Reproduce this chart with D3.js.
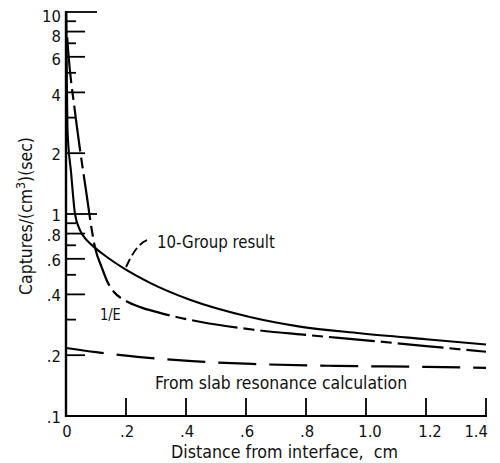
<!DOCTYPE html>
<html><head><meta charset="utf-8">
<script src="https://cdn.jsdelivr.net/npm/d3@7/dist/d3.min.js"></script>
<style>
html,body{margin:0;padding:0;background:#fff;}
svg text{font-family:"DejaVu Sans Condensed","DejaVu Sans",sans-serif;font-stretch:condensed;fill:#111;}
</style></head>
<body><svg id="c" width="500" height="463"></svg>
<script>
// ---- data ----
const tenGroupX = [0.001,0.003,0.005,0.017,0.03,0.047,0.07,0.097,0.125,0.197,0.28,0.413,0.613,0.78,0.98,1.2,1.4];
const tenGroupY = [10,4.2,2.6,1.6,1.0,0.83,0.74,0.68,0.630,0.533,0.456,0.376,0.309,0.277,0.257,0.240,0.226];
const invEX = [0.004,0.007,0.03,0.047,0.07,0.085,0.097,0.12,0.14,0.16,0.2,0.25,0.31,0.45,0.62,0.8,1.0,1.2,1.4];
const invEY = [7.5,6.5,3.2,2.07,1.21,0.85,0.68,0.54,0.455,0.411,0.371,0.345,0.325,0.292,0.268,0.252,0.237,0.222,0.208];
const slabX = [0,0.1,0.2,0.42,0.62,0.9,1.2,1.4];
const slabY = [0.217,0.207,0.199,0.187,0.181,0.177,0.175,0.173];
const xTicks = [0.2,0.4,0.6,0.8,1.0,1.2,1.4];
const xTickLabels = ["0",".2",".4",".6",".8","1.0","1.2","1.4"];
const xLabelVals = [0,0.2,0.4,0.6,0.8,1.0,1.2,1.4];
const yTicks = [0.1,0.2,0.3,0.4,0.5,0.6,0.7,0.8,0.9,1,2,3,4,5,6,7,8,9,10];
const yLabelVals = [0.1,0.2,0.4,0.6,0.8,1,2,4,6,8,10];
const yLabels = [".1",".2",".4",".6",".8","1","2","4","6","8","10"];

// ---- scales ----
const svg = d3.select("#c");
const x = d3.scaleLinear().domain([0,1.4]).range([66,486]);
const y = d3.scaleLog().domain([0.1,10]).range([416,12]);

function fit(sel, target){
  sel.attr("textLength", target).attr("lengthAdjust","spacingAndGlyphs");
}

// ---- axes ----
const yAxis = svg.append("g");
yAxis.append("line").attr("x1",x(0)).attr("x2",x(0)).attr("y1",y(10)-1).attr("y2",y(0.1)+1)
  .attr("stroke","#000").attr("stroke-width",2.4);
function tickLen(v){
  const m = Math.round(v/Math.pow(10,Math.floor(Math.log10(v)+1e-9)));
  if (m===1) return 31;
  return (m%2===0) ? 19 : 10;
}
yAxis.selectAll("line.t").data(yTicks).join("line").attr("class","t")
  .attr("x1",x(0)).attr("x2",d=>x(0)+tickLen(d))
  .attr("y1",d=>y(d)).attr("y2",d=>y(d)).attr("stroke","#000").attr("stroke-width",1.8);
// top labels sit slightly below their ticks in the original
const nudge = d => d>=10 ? 4.5 : (d>=8 ? 4 : (d>=4 ? 2.5 : 1));
yAxis.selectAll("text").data(yLabelVals).join("text")
  .attr("x",61).attr("y",d=>y(d)+nudge(d)).attr("dy","0.36em")
  .attr("text-anchor","end").attr("font-size",16.5).text((d,i)=>yLabels[i]);

const xAxis = svg.append("g");
xAxis.append("line").attr("x1",x(0)).attr("x2",x(1.4)+1).attr("y1",y(0.1)).attr("y2",y(0.1))
  .attr("stroke","#000").attr("stroke-width",2.2);
xAxis.selectAll("line.t").data(xTicks).join("line").attr("class","t")
  .attr("x1",d=>x(d)).attr("x2",d=>x(d)).attr("y1",y(0.1)).attr("y2",y(0.1)-18)
  .attr("stroke","#000").attr("stroke-width",1.8);
xAxis.selectAll("text").data(xLabelVals).join("text")
  .attr("x",(d,i)=> i===xLabelVals.length-1 ? x(d)+2 : x(d)+ (d>=1?4:1))
  .attr("y",437).attr("text-anchor",(d,i)=> i===xLabelVals.length-1 ? "end":"middle")
  .attr("font-size",16.5).text((d,i)=>xTickLabels[i]);

// ---- curves ----
const line = d3.line().x(d=>x(d[0])).y(d=>y(d[1])).curve(d3.curveMonotoneX);
const zip = (a,b)=>a.map((v,i)=>[v,b[i]]);
svg.append("path").attr("d",line(zip(slabX,slabY))).attr("fill","none")
  .attr("stroke","#000").attr("stroke-width",2.2).attr("stroke-dasharray","38,13");
svg.append("path").attr("d",line(zip(invEX,invEY))).attr("fill","none")
  .attr("stroke","#000").attr("stroke-width",2.2).attr("stroke-dasharray","46,6,11,6");
svg.append("path").attr("d",line(zip(tenGroupX,tenGroupY))).attr("fill","none")
  .attr("stroke","#000").attr("stroke-width",2.1);

// ---- annotations ----
svg.append("path")
  .attr("d",`M${x(0.27)},${y(0.743)} Q${x(0.233)},${y(0.71)} ${x(0.197)},${y(0.533)}`)
  .attr("fill","none").attr("stroke","#000").attr("stroke-width",1.9).attr("stroke-dasharray","9,4");
const t1 = svg.append("text").attr("x",x(0.303)).attr("y",y(0.679)).attr("font-size",17).text("10-Group result");
fit(t1,118);
const t2 = svg.append("text").attr("x",x(0.113)).attr("y",y(0.299)).attr("font-size",16.5).text("1/E");
fit(t2,21);
const t3 = svg.append("text").attr("x",x(0.297)).attr("y",y(0.136)).attr("font-size",17).text("From slab resonance calculation");
fit(t3,252);
const t4 = svg.append("text").attr("x",171).attr("y",458).attr("font-size",17)
  .attr("xml:space","preserve").style("white-space","pre").text("Distance from interface,  cm");
fit(t4,227);

const yt = svg.append("text").attr("text-anchor","middle").attr("font-size",18);
yt.append("tspan").text("Captures/(cm");
yt.append("tspan").attr("font-size",12.5).attr("dy",-7).text("3");
yt.append("tspan").attr("dy",7).text(")(sec)");
const w = yt.node().getComputedTextLength();
yt.attr("transform",`translate(32,216) rotate(-90) scale(${158/w},1)`);
</script></body></html>
